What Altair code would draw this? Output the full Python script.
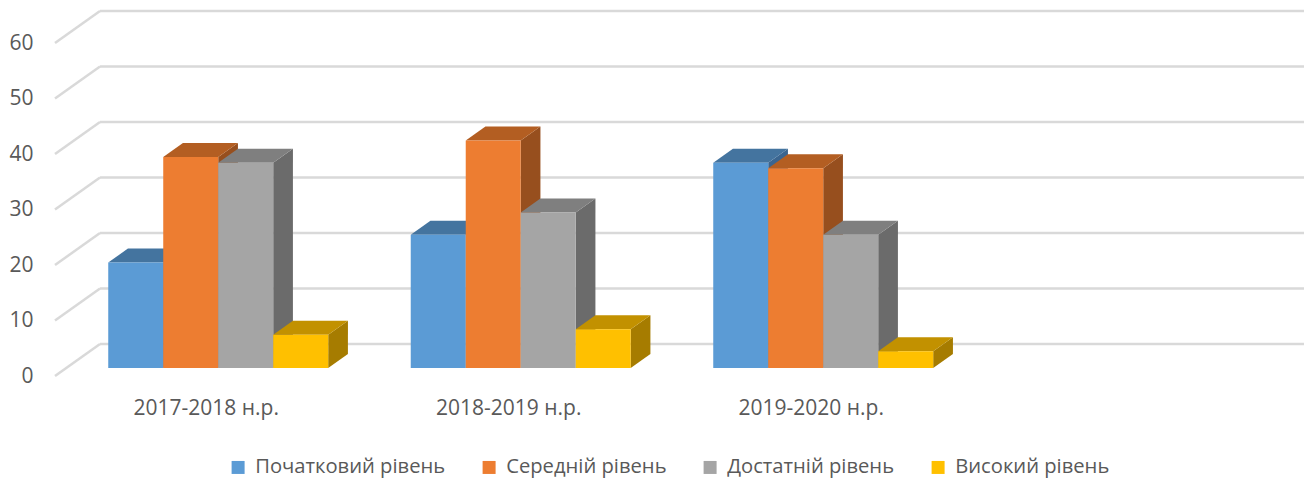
import altair as alt
import pandas as pd

# ---- data ----
categories = ["2017-2018 н.р.", "2018-2019 н.р.", "2019-2020 н.р."]
series = ["Початковий рівень", "Середній рівень", "Достатній рівень", "Високий рівень"]
v_poch = [19, 24, 37]
v_ser = [38, 41, 36]
v_dost = [37, 28, 24]
v_vys = [6, 7, 3]
y_ticks = [0, 10, 20, 30, 40, 50, 60]

values = [v_poch, v_ser, v_dost, v_vys]

# ---- styles ----
front_colors = ["#5B9BD5", "#ED7D31", "#A5A5A5", "#FFC000"]
top_colors = ["#44749F", "#B35E22", "#7F7F7F", "#C29100"]
side_colors = ["#3A6590", "#974F1E", "#6B6B6B", "#A67C00"]
FONT = "Open Sans"
TXT = "#595959"

N_SLOTS = 4          # Excel axis has a 4th empty slot
DX = 0.1488          # full depth in x units
DY = 5.766           # full depth in y units
GAP = 0.1388         # gap before the first bar in a slot
W = 0.1818           # bar width in slot units
D1, D2 = 0.25, 0.6875
PLOT_W, PLOT_H = 1249, 365
X_MAX = PLOT_W / 302.5
Y_MAX = 65.77

front_rows, top_rows, side_rows = [], [], []
for i, cat in enumerate(categories):
    for j, s in enumerate(series):
        v = values[j][i]
        bid = f"{i}-{j}"
        xl = i + GAP + j * W + D1 * DX
        xr = xl + W
        yb = D1 * DY
        yt = v + D1 * DY
        ddx = (D2 - D1) * DX
        ddy = (D2 - D1) * DY
        front_rows.append(dict(series=s, category=cat, value=v, x=xl, x2=xr, y=yb, y2=yt))
        top_rows.append(dict(bid=bid, c=top_colors[j], y=yt, x=xl, x2=xr))
        top_rows.append(dict(bid=bid, c=top_colors[j], y=yt + ddy, x=xl + ddx, x2=xr + ddx))
        side_rows.append(dict(bid=bid, c=side_colors[j], x=xr, y=yb, y2=yt))
        side_rows.append(dict(bid=bid, c=side_colors[j], x=xr + ddx, y=yb + ddy, y2=yt + ddy))

grid_rows = []
for t in y_ticks:
    grid_rows.append(dict(x=DX, x2=N_SLOTS + DX, y=t + DY, y2=t + DY))
    grid_rows.append(dict(x=0, x2=DX, y=t, y2=t + DY))

cat_rows = [dict(category=c, x=i + 0.5) for i, c in enumerate(categories)]

xs = alt.Scale(domain=[0, X_MAX], nice=False, zero=False)
ys = alt.Scale(domain=[0, Y_MAX], nice=False, zero=False)
y_axis = alt.Axis(values=y_ticks, grid=False, domain=False, ticks=False,
                  labelPadding=22, labelFontSize=21, labelColor=TXT, labelFont=FONT,
                  title=None)

grid = alt.Chart(pd.DataFrame(grid_rows)).mark_rule(color="#D9D9D9", strokeWidth=2.5).encode(
    x=alt.X("x:Q", scale=xs, axis=None),
    x2="x2:Q",
    y=alt.Y("y:Q", scale=ys, axis=y_axis),
    y2="y2:Q",
)

sides = alt.Chart(pd.DataFrame(side_rows)).mark_area(orient="vertical").encode(
    x=alt.X("x:Q", scale=xs, axis=None),
    y=alt.Y("y:Q", scale=ys, stack=None, axis=y_axis),
    y2="y2:Q",
    detail="bid:N",
    color=alt.Color("c:N", scale=None),
)

tops = alt.Chart(pd.DataFrame(top_rows)).mark_area(orient="horizontal").encode(
    y=alt.Y("y:Q", scale=ys, axis=y_axis),
    x=alt.X("x:Q", scale=xs, stack=None, axis=None),
    x2="x2:Q",
    detail="bid:N",
    color=alt.Color("c:N", scale=None),
)

fronts = alt.Chart(pd.DataFrame(front_rows)).mark_rect().encode(
    x=alt.X("x:Q", scale=xs, axis=None),
    x2="x2:Q",
    y=alt.Y("y:Q", scale=ys, axis=y_axis),
    y2="y2:Q",
    color=alt.Color("series:N", scale=alt.Scale(domain=series, range=front_colors),
                    legend=alt.Legend(
                        title=None, orient="none", legendX=173, legendY=446,
                        direction="horizontal", columns=4, columnPadding=33,
                        symbolType="square", symbolSize=169, symbolStrokeWidth=0,
                        labelFont=FONT, labelFontSize=20.2, labelColor=TXT, labelOffset=7,
                        labelLimit=400)),
)

cats = alt.Chart(pd.DataFrame(cat_rows)).mark_text(
    font=FONT, fontSize=21, color=TXT, baseline="middle", align="center"
).encode(
    x=alt.X("x:Q", scale=xs, axis=None),
    y=alt.value(398),
    text="category:N",
)

chart = alt.layer(grid, sides, tops, fronts, cats).resolve_scale(color="independent").properties(
    width=PLOT_W, height=PLOT_H,
    autosize=alt.AutoSizeParams(type="none"),
    padding={"left": 47, "top": 3, "right": 0, "bottom": 106},
).configure_view(stroke=None)

chart.save("out.html", embed_options={"renderer": "svg", "actions": False})
